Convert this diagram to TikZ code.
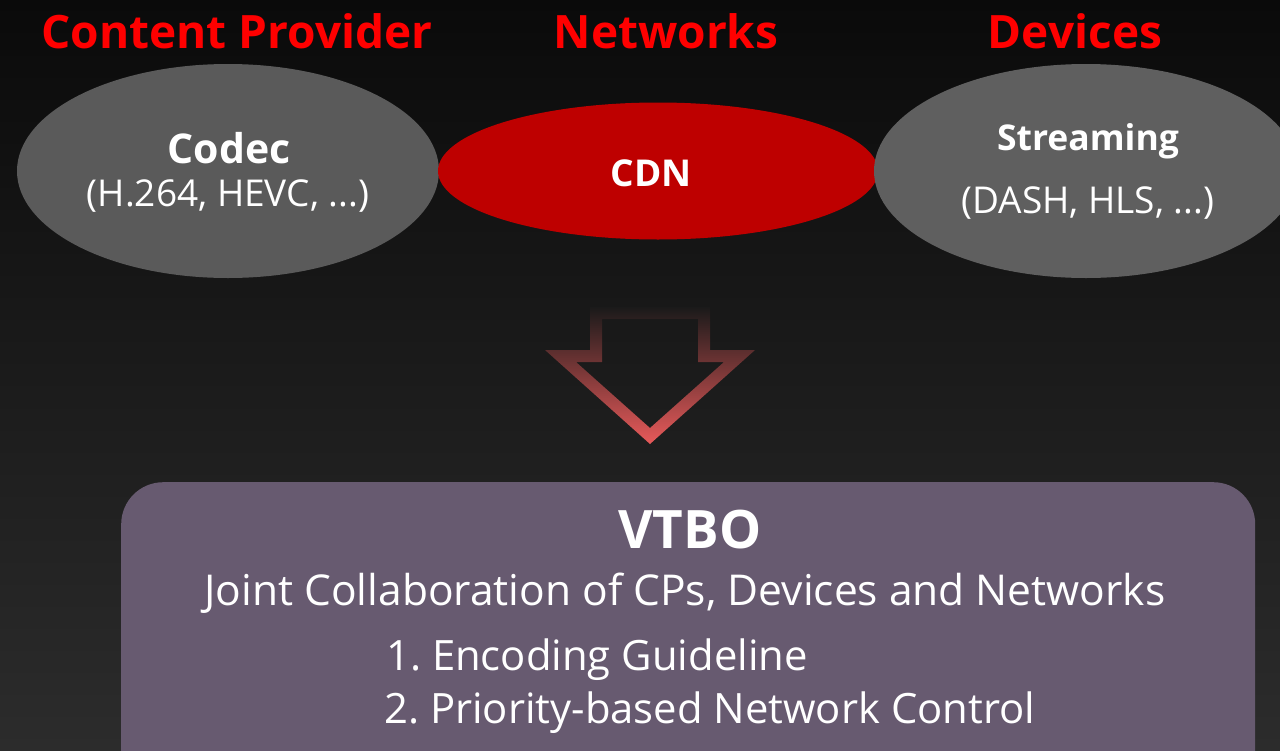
\documentclass[tikz,border=0pt]{standalone}
\usepackage{fontspec}
\setmainfont{Open Sans}
\frenchspacing
\usetikzlibrary{shapes.geometric}
\definecolor{bgtop}{RGB}{10,10,10}
\definecolor{bgbot}{RGB}{44,44,44}
\definecolor{titlered}{RGB}{255,0,0}
\definecolor{greyA}{RGB}{90,90,90}
\definecolor{greyB}{RGB}{95,95,95}
\definecolor{cdnred}{RGB}{190,0,0}
\definecolor{boxpurple}{RGB}{103,90,112}
\definecolor{arrowred}{RGB}{232,90,90}
\definecolor{arrowtop}{RGB}{26,26,26}
\tikzset{
  title/.style={text=titlered, font=\bfseries\fontsize{46}{52}\selectfont, anchor=center},
  oval/.style={ellipse, inner sep=0pt},
  head/.style={text=white, font=\bfseries\fontsize{41}{48}\selectfont},
  sub/.style={text=white, font=\fontsize{37}{44}\selectfont},
  boxtext/.style={text=white, font=\fontsize{42.5}{50}\selectfont},
  listtext/.style={text=white, font=\fontsize{41.8}{50}\selectfont, anchor=west, inner sep=0pt},
}
\begin{document}
\begin{tikzpicture}[x=1pt,y=-1pt]
\useasboundingbox (0,0) rectangle (1280,750);
\shade[top color=bgtop, bottom color=bgbot] (0,0) rectangle (1280,750);
\begin{scope}
\clip (0,0) rectangle (1280,750);
% ellipses
\node[oval, fill=greyA, minimum width=422pt, minimum height=214pt] (codec) at (228,171) {};
\node[oval, fill=cdnred, minimum width=440pt, minimum height=137pt] (cdn) at (658,171) {};
\node[oval, fill=greyB, minimum width=424pt, minimum height=214pt] (stream) at (1086,171) {};
% box
\node[draw=none, fill=boxpurple, rounded corners=42pt, minimum width=1134pt, minimum height=320pt, anchor=north west] (box) at (121,482) {};
\end{scope}
% titles
\node[title] (tcp) at (237,31) {Content Provider};
\node[title] (tnet) at (666,31) {Networks};
\node[title] (tdev) at (1075,31) {Devices};
% ellipse texts
\node[head] (codecH) at (229,148) {Codec};
\node[sub] (codecS) at (228,196) {(H.264, HEVC, ...)};
\node[head, font=\bfseries\fontsize{37}{44}\selectfont] (cdnH) at (651,173) {CDN};
\node[head, font=\bfseries\fontsize{35.5}{42}\selectfont] (streamH) at (1088,141) {Streaming};
\node[sub] (streamS) at (1088,203) {(DASH, HLS, ...)};
% arrow
\shade[top color=arrowtop, bottom color=arrowred, even odd rule]
  (590,307) -- (590,350) -- (545,350) -- (650,444) -- (755,350) -- (710,350) -- (710,307) -- cycle
  (602,319) -- (602,362) -- (576,362) -- (650,428) -- (724,362) -- (698,362) -- (698,319) -- cycle;
% box texts
\node[text=white, font=\bfseries\fontsize{53}{60}\selectfont] (vtbo) at (690,530) {VTBO};
\node[boxtext] (joint) at (685,593) {Joint Collaboration of CPs, Devices and Networks};
\node[listtext] (l1) at (386,660) {1. Encoding Guideline};
\node[listtext] (l2) at (384,713) {2. Priority-based Network Control};
\end{tikzpicture}
\end{document}
